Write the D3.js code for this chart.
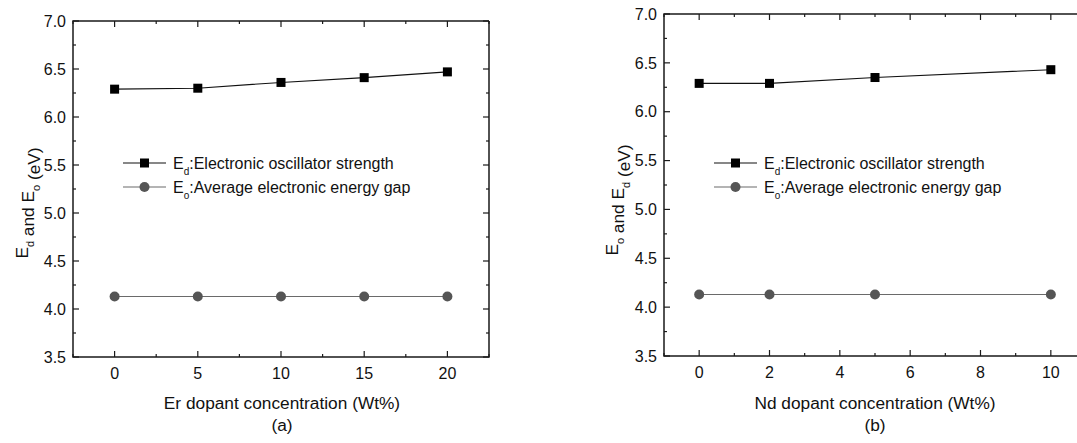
<!DOCTYPE html>
<html><head><meta charset="utf-8">
<script src="https://cdn.jsdelivr.net/npm/d3@7"></script>
<style>
html,body{margin:0;padding:0;background:#fff;}
svg{display:block;font-family:Arial,"Liberation Sans",sans-serif;}
</style></head>
<body><svg id="chart" width="1077" height="443"></svg>
<script>
// ---- data ----
const erConc = [0, 5, 10, 15, 20];
const erEd = [6.29, 6.30, 6.36, 6.41, 6.47];
const erEo = [4.13, 4.13, 4.13, 4.13, 4.13];
const ndConc = [0, 2, 5, 10];
const ndEd = [6.29, 6.29, 6.35, 6.43];
const ndEo = [4.13, 4.13, 4.13, 4.13];
const yTicks = [3.5, 4.0, 4.5, 5.0, 5.5, 6.0, 6.5, 7.0];
const yMinor = [3.75, 4.25, 4.75, 5.25, 5.75, 6.25, 6.75];
const erTicks = [0, 5, 10, 15, 20];
const erMinor = [-2.5, 2.5, 7.5, 12.5, 17.5, 22.5];
const ndTicks = [0, 2, 4, 6, 8, 10];
const ndMinor = [-1, 1, 3, 5, 7, 9, 11];
const legendLabels = [
  {main: "E", sub: "d", rest: ":Electronic oscillator strength"},
  {main: "E", sub: "o", rest: ":Average electronic energy gap"}
];

const svg = d3.select("#chart");
const FS = 16;
const TFS = 17.3;

function panel(cfg) {
  const x = d3.scaleLinear().domain(cfg.xDomain).range([cfg.left, cfg.right]);
  const y = d3.scaleLinear().domain([3.5, 7.0]).range([cfg.bottom, cfg.top]);
  const g = svg.append("g");
  const axisColor = "#1a1a1a";

  const xr = Math.min(cfg.right, 1077.5);
  g.append("path")
    .attr("d", `M${xr},${cfg.top}H${cfg.left}V${cfg.bottom}H${xr}` + (cfg.right <= 1077 ? `V${cfg.top}` : ""))
    .attr("fill", "none").attr("stroke", axisColor).attr("stroke-width", 1.5);

  const tk = (len, vals, side) => {
    vals.forEach(v => {
      if (side === "b") g.append("line").attr("x1", x(v)).attr("x2", x(v)).attr("y1", cfg.bottom).attr("y2", cfg.bottom - len);
      if (side === "t") g.append("line").attr("x1", x(v)).attr("x2", x(v)).attr("y1", cfg.top).attr("y2", cfg.top + len);
      if (side === "l") g.append("line").attr("y1", y(v)).attr("y2", y(v)).attr("x1", cfg.left).attr("x2", cfg.left + len);
      if (side === "r") g.append("line").attr("y1", y(v)).attr("y2", y(v)).attr("x1", cfg.right).attr("x2", cfg.right - len);
    });
  };
  ["b", "t"].forEach(s => { tk(6, cfg.xTicks, s); tk(3, cfg.xMinor, s); });
  ["l", "r"].forEach(s => { tk(6, yTicks, s); tk(3, yMinor, s); });
  g.selectAll("line").attr("stroke", axisColor).attr("stroke-width", 1.2);

  g.selectAll(".yl").data(yTicks).enter().append("text")
    .attr("x", cfg.left - 7).attr("y", d => y(d)).attr("dy", "0.36em")
    .attr("text-anchor", "end").attr("font-size", FS).attr("fill", "#111")
    .text(d => d.toFixed(1));
  g.selectAll(".xl").data(cfg.xTicks).enter().append("text")
    .attr("x", d => x(d)).attr("y", cfg.bottom + 22)
    .attr("text-anchor", "middle").attr("font-size", FS).attr("fill", "#111")
    .text(d => d);

  g.append("text").attr("x", cfg.titleCx).attr("y", 409)
    .attr("text-anchor", "middle").attr("font-size", TFS).attr("fill", "#111").text(cfg.xTitle);
  g.append("text").attr("x", cfg.titleCx).attr("y", 431)
    .attr("text-anchor", "middle").attr("font-size", TFS).attr("fill", "#111").text(cfg.panelLabel);

  const yt = g.append("text")
    .attr("transform", `translate(${cfg.yTitleX},${cfg.yTitleCy}) rotate(-90)`)
    .attr("text-anchor", "middle").attr("font-size", TFS).attr("fill", "#111");
  cfg.yTitle.forEach(p => {
    if (p.sub) {
      yt.append("tspan").attr("dy", 6).attr("font-size", 11).text(p.sub);
      yt.append("tspan").attr("dy", -6).text("");
    } else {
      yt.append("tspan").text(p.t);
    }
  });

  const line = d3.line().x(d => x(d[0])).y(d => y(d[1]));
  const edPts = cfg.conc.map((c, i) => [c, cfg.ed[i]]);
  const eoPts = cfg.conc.map((c, i) => [c, cfg.eo[i]]);
  g.append("path").datum(eoPts).attr("d", line).attr("fill", "none").attr("stroke", "#6a6a6a").attr("stroke-width", 1.1);
  g.append("path").datum(edPts).attr("d", line).attr("fill", "none").attr("stroke", "#111").attr("stroke-width", 1.1);
  g.selectAll(".sq").data(edPts).enter().append("rect")
    .attr("x", d => x(d[0]) - 4.5).attr("y", d => y(d[1]) - 4.5)
    .attr("width", 9).attr("height", 9).attr("fill", "#000");
  g.selectAll(".ci").data(eoPts).enter().append("circle")
    .attr("cx", d => x(d[0])).attr("cy", d => y(d[1])).attr("r", 5)
    .attr("fill", "#555");

  legendLabels.forEach((L, i) => {
    const ly = cfg.legY + i * 24;
    g.append("line").attr("x1", cfg.legX).attr("x2", cfg.legX + 43).attr("y1", ly).attr("y2", ly)
      .attr("stroke", i === 0 ? "#111" : "#6a6a6a").attr("stroke-width", 1.1);
    if (i === 0) g.append("rect").attr("x", cfg.legX + 21.5 - 4.5).attr("y", ly - 4.5).attr("width", 9).attr("height", 9).attr("fill", "#000");
    else g.append("circle").attr("cx", cfg.legX + 21.5).attr("cy", ly).attr("r", 5).attr("fill", "#555");
    const t = g.append("text").attr("x", cfg.legX + 50).attr("y", ly).attr("dy", "0.36em")
      .attr("font-size", FS).attr("fill", "#111");
    t.append("tspan").text(L.main);
    t.append("tspan").attr("dy", 6).attr("font-size", 10).text(L.sub);
    t.append("tspan").attr("dy", -6).text(L.rest);
  });
}

panel({
  left: 73, right: 489, top: 21, bottom: 357,
  xDomain: [-2.5, 22.5], xTicks: erTicks, xMinor: erMinor,
  conc: erConc, ed: erEd, eo: erEo,
  xTitle: "Er dopant concentration (Wt%)", panelLabel: "(a)", titleCx: 282,
  yTitle: [{t: "E"}, {sub: "d"}, {t: " and E"}, {sub: "o"}, {t: " (eV)"}],
  yTitleX: 28, yTitleCy: 203,
  legX: 123, legY: 163
});
panel({
  left: 664, right: 1086, top: 14, bottom: 356,
  xDomain: [-1, 11], xTicks: ndTicks, xMinor: ndMinor,
  conc: ndConc, ed: ndEd, eo: ndEo,
  xTitle: "Nd dopant concentration (Wt%)", panelLabel: "(b)", titleCx: 875,
  yTitle: [{t: "E"}, {sub: "o"}, {t: " and E"}, {sub: "d"}, {t: " (eV)"}],
  yTitleX: 618, yTitleCy: 200,
  legX: 714, legY: 163
});
</script></body></html>
